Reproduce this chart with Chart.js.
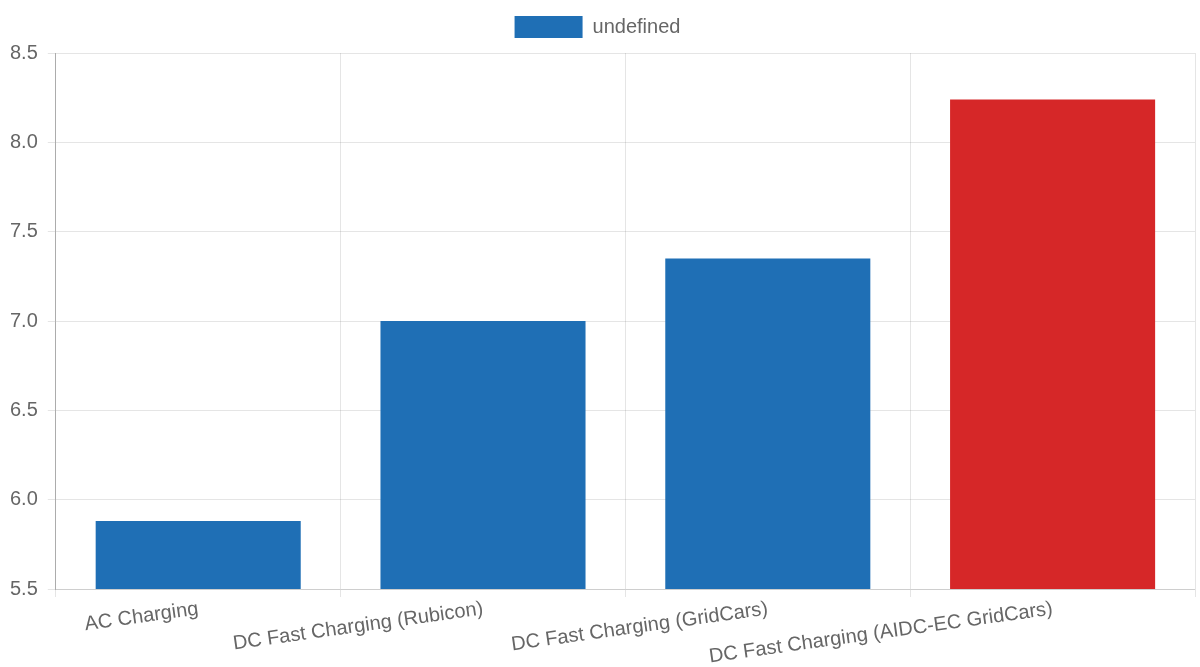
<!DOCTYPE html>
<html>
<head>
<meta charset="utf-8">
<script src="https://cdn.jsdelivr.net/npm/chart.js@4"></script>
<style>
  html, body { margin: 0; padding: 0; background: #fff; }
  .wrap { width: 1200px; height: 667px; }
</style>
</head>
<body>
<div class="wrap"><canvas id="chart"></canvas></div>
<script>
const categories = [
  'AC Charging',
  'DC Fast Charging (Rubicon)',
  'DC Fast Charging (GridCars)',
  'DC Fast Charging (AIDC-EC GridCars)'
];
const values = [5.88, 7.0, 7.35, 8.24];
const barColors = ['#1f6fb5', '#1f6fb5', '#1f6fb5', '#d62728'];
const seriesLabel = 'undefined';

Chart.defaults.font.family = '"Liberation Sans", Arial, sans-serif';
Chart.defaults.font.size = 20;
Chart.defaults.color = '#666';

// a bit more room under the legend
const legendGap = {
  id: 'legendGap',
  beforeInit(chart) {
    const fit = chart.legend.fit;
    chart.legend.fit = function () {
      fit.bind(chart.legend)();
      this.height += 5;
    };
  }
};

new Chart(document.getElementById('chart').getContext('2d'), {
  type: 'bar',
  data: {
    labels: categories,
    datasets: [{
      label: seriesLabel,
      data: values,
      backgroundColor: barColors,
      borderWidth: 0
    }]
  },
  options: {
    responsive: true,
    maintainAspectRatio: false,
    animation: false,
    layout: { padding: { left: 0, right: 5, top: 1, bottom: 0 } },
    plugins: {
      legend: {
        labels: {
          boxWidth: 68,
          boxHeight: 22,
          padding: 15,
          color: '#666',
          generateLabels: (chart) => [{
            text: seriesLabel,
            fillStyle: barColors[0],
            strokeStyle: barColors[0],
            lineWidth: 0,
            datasetIndex: 0,
            fontColor: '#666'
          }]
        }
      },
      tooltip: { enabled: false }
    },
    scales: {
      x: {
        grid: { color: 'rgba(0,0,0,0.1)' },
        ticks: { minRotation: 8, maxRotation: 8, padding: 0, color: '#666' },
        afterFit: (scale) => { scale.height = 78; }
      },
      y: {
        min: 5.5,
        max: 8.5,
        ticks: {
          stepSize: 0.5,
          padding: 10,
          color: '#666',
          callback: (v) => v.toFixed(1)
        },
        grid: { color: 'rgba(0,0,0,0.1)' },
        border: { color: 'rgba(0,0,0,0.25)' }
      }
    }
  },
  plugins: [legendGap]
});
</script>
</body>
</html>
